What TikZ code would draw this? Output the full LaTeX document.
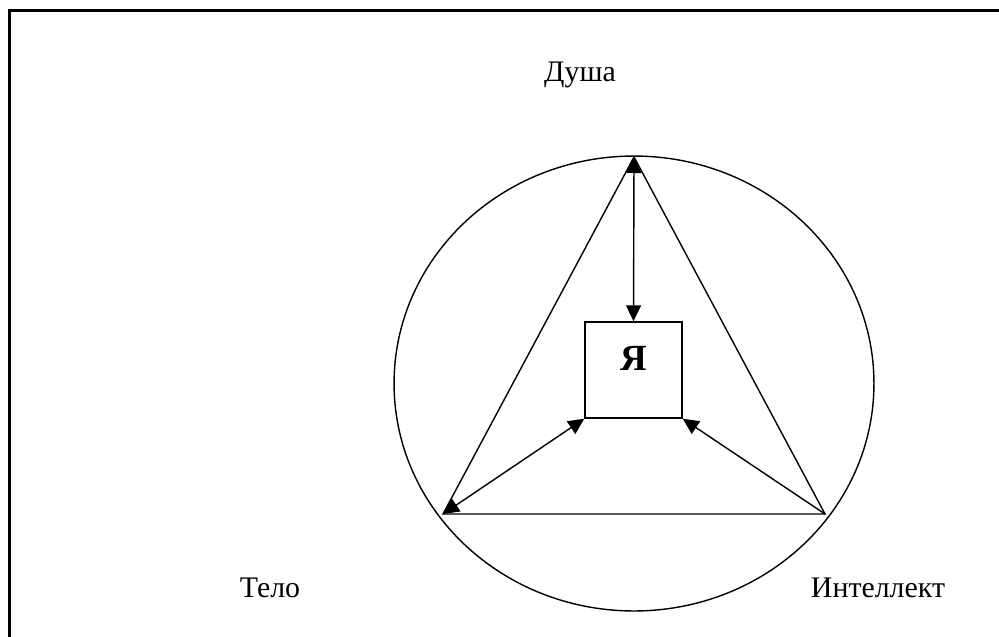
\documentclass[tikz,border=0pt]{standalone}
\usepackage{fontspec}
\setmainfont{Liberation Serif}
\usetikzlibrary{arrows.meta, positioning}

\begin{document}
\begin{tikzpicture}[
			x=0.02cm, y=-0.02cm,
			label/.style={font=\fontsize{17}{20}\selectfont, inner sep=0pt},
			selfbox/.style={rectangle, draw, line width=0.8pt, minimum width=1.94cm, minimum height=1.92cm, text height=0pt, text depth=0pt, font=\fontsize{21}{24}\selectfont\bfseries},
			arrow/.style={line width=0.8pt, -{Triangle[length=3.2mm, width=3mm]}},
			dblarrow/.style={line width=0.8pt, {Triangle[length=3.2mm, width=3mm]}-{Triangle[length=3.2mm, width=3mm]}}
			]
			\useasboundingbox (0,0) rectangle (999,636);
			\draw[line width=1.4pt] (9.5,10.5) rectangle (1020,660);
			
			% circle and triangle
			\draw[line width=0.8pt] (634,383.5) ellipse [x radius=4.8cm, y radius=4.55cm];
			\coordinate (soul) at (634,157);
			\coordinate (body) at (443,514);
			\coordinate (mind) at (825,514);
			\draw[line width=0.8pt, line join=miter] (soul) -- (body) -- (mind) -- cycle;
			
			\node[selfbox] (me) at (633.5,370) {Я};
			
			\node[label] (soultext) at (580,75) {Душа};
			\node[label] (bodytext) at (270,588) {Тело};
			\node[label] (mindtext) at (878,588) {Интеллект};
			
			\draw[dblarrow] (soul) -- (me.north);
			\draw[dblarrow] (body) -- (me.south west);
			\draw[arrow] (mind) -- (me.south east);
		\end{tikzpicture}
\end{document}
